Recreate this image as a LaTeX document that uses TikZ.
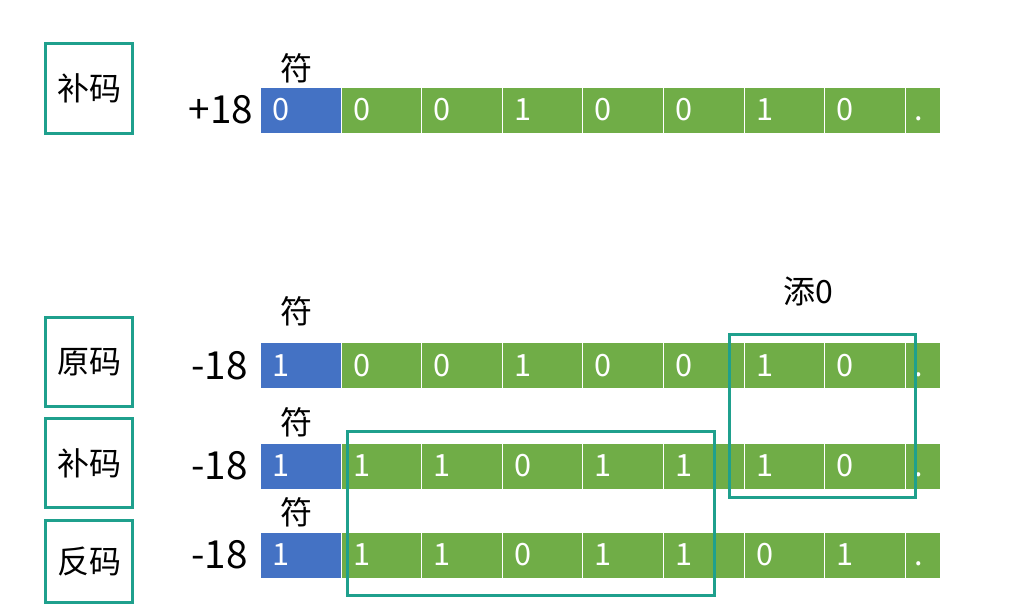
\documentclass[tikz,border=0pt]{standalone}
\usepackage{fontspec}
\setmainfont{Noto Sans CJK SC}
\usetikzlibrary{positioning}

\definecolor{signblue}{RGB}{68,114,196}
\definecolor{bitgreen}{RGB}{112,173,71}
\definecolor{boxteal}{RGB}{31,160,141}

\tikzset{
  bit/.style={anchor=west, fill=bitgreen, draw=white, line width=0.75pt,
    minimum height=34.5pt, text width=42.45pt, inner xsep=9pt, inner ysep=0pt,
    text height=16pt, text depth=0pt,
    align=left, text=white, font=\fontsize{23}{23}\selectfont},
  signbit/.style={bit, fill=signblue},
  tailbit/.style={bit, text width=12.25pt, inner xsep=7pt},
  codebox/.style={draw=boxteal, line width=2.25pt, minimum width=65pt,
    minimum height=67pt, font=\fontsize{24}{24}\selectfont},
  hlbox/.style={draw=boxteal, line width=2.25pt},
  num/.style={inner sep=0pt, font=\fontsize{29}{29}\selectfont},
  signlabel/.style={inner sep=0pt, font=\fontsize{24}{24}\selectfont}
}

\begin{document}
\begin{tikzpicture}[x=0.75pt,y=-0.75pt]
    \useasboundingbox (0,0) rectangle (1031,615);

    % the code boxes on the left
    \node[codebox] (bm1) at (89,88.5) {补码};
    \node[codebox] (ym)  at (89,362) {原码};
    \node[codebox] (bm2) at (89,463) {补码};
    \node[codebox, minimum height=62pt] (fm) at (89,561.5) {反码};

    % bit rows
    \foreach \y/\s/\bits [count=\r] in {110/0/{0,0,1,0,0,1,0}, 365.5/1/{0,0,1,0,0,1,0},
                                        466/1/{1,1,0,1,1,1,0}, 555/1/{1,1,0,1,1,0,1}}{
        \node[signbit] (r\r s) at (260,\y) {\s};
        \foreach \b [count=\i] in \bits
            \node[bit] (r\r b\i) at ({340.5+80.6*(\i-1)},\y) {\b};
        \node[tailbit] (r\r t) at (904.7,\y) {.};
    }

    % values and sign marks
    \node[num, left=5pt of r1s] (v1) {+18};
    \node[num, left=9pt of r2s] (v2) {-18};
    \node[num, left=9pt of r3s] (v3) {-18};
    \node[num, left=9pt of r4s] (v4) {-18};
    \node[signlabel] (f1) at (296,68) {符};
    \node[signlabel] (f2) at (296,311) {符};
    \node[signlabel] (f3) at (296,422) {符};
    \node[signlabel] (f4) at (296,512) {符};

    % highlights
    \draw[hlbox] (347,431) rectangle (714,595);
    \draw[hlbox] (729,334) rectangle (915,497);
    \node[signlabel] (add0) at (808,291) {添0};
\end{tikzpicture}
\end{document}
